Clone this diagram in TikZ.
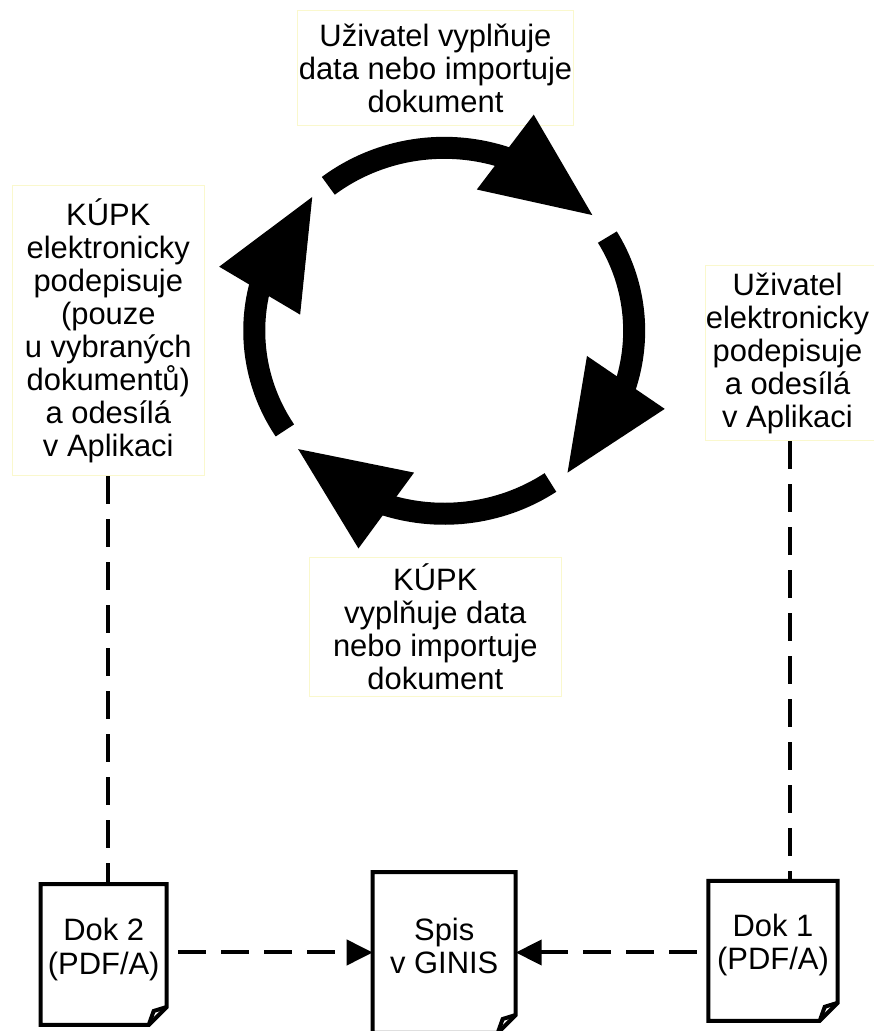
\documentclass[tikz,border=0pt]{standalone}
\usepackage{fontspec}
\setmainfont{Liberation Sans}
\usepackage{xcolor}
\usepackage{tikz}
\usetikzlibrary{arrows.meta}

\definecolor{noteborder}{RGB}{250,248,205}

\tikzset{note/.style={
    draw=noteborder,
    line width=0.02cm,
    align=center,
    inner sep=0pt,
    font=\fontsize{17.6pt}{18.8pt}\selectfont,
}}
\tikzset{doc/.style={
    draw=none,
    inner sep=0pt,
    outer sep=0pt,
}}
\tikzset{doctext/.style={
    align=center,
    inner sep=0pt,
    font=\fontsize{17.6pt}{18.8pt}\selectfont,
}}
\tikzset{docline/.style={
    line width=0.08cm,
    line join=miter,
}}
\tikzset{link/.style={
    line width=0.08cm,
    dash pattern=on 0.56cm off 0.3cm,
}}
\tikzset{feed/.style={
    link,
    dash phase=0.63cm,
    -{Triangle[length=0.52cm,width=0.5cm]},
}}
\tikzset{cyclearc/.style={
    line width=0.44cm,
}}

% sheet with a turned-down corner round an empty node
\newcommand{\docoutline}[1]{%
    \draw[docline] (#1.north west) -- (#1.north east) -- ([yshift=0.36cm]#1.south east)
        -- ([xshift=-0.36cm]#1.south east) -- (#1.south west) -- cycle;
    \draw[docline] ([yshift=0.36cm]#1.south east) -- ([xshift=-0.26cm,yshift=0.28cm]#1.south east)
        -- ([xshift=-0.36cm]#1.south east);
}

\begin{document}
\begin{tikzpicture}[x=0.02cm,y=0.02cm]
    \useasboundingbox (0,0) rectangle (873,1031);

    % steps round the cycle
    \node[note, minimum width=5.54cm, minimum height=2.3cm] (ufill) at (435.5,962.7)
        {Uživatel vyplňuje\\data nebo importuje\\dokument};
    \node[note, minimum width=3.83cm, minimum height=5.82cm] (ksign) at (108.3,700.5)
        {KÚPK\\elektronicky\\podepisuje\\(pouze\\u vybraných\\dokumentů)\\a odesílá\\v Aplikaci};
    \node[note, minimum width=3.6cm, minimum height=3.5cm] (usign) at (795,677.8) {};
    \node[doctext] (usigntxt) at (787.5,677.8)
        {Uživatel\\elektronicky\\podepisuje\\a odesílá\\v Aplikaci};
    \node[note, minimum width=5.05cm, minimum height=2.79cm] (kfill) at (435.3,404)
        {KÚPK\\vyplňuje data\\nebo importuje\\dokument};

    % the cycle
    \coordinate (cyc) at (444.2,700.2);
    \draw[cyclearc] ([shift={(127.6:3.8cm and 3.66cm)}]cyc)
        arc[start angle=127.6, end angle=69, x radius=3.8cm, y radius=3.66cm];
    \fill ([shift={(38:3.76cm)}]cyc) -- ([shift={(77:2.9cm)}]cyc) -- ([shift={(67.5:4.68cm)}]cyc) -- cycle;
    \draw[cyclearc] ([shift={(30.8:3.8cm and 3.66cm)}]cyc)
        arc[start angle=30.8, end angle=-18, x radius=3.8cm, y radius=3.66cm];
    \fill ([shift={(-49:3.76cm)}]cyc) -- ([shift={(-10:2.9cm)}]cyc) -- ([shift={(-19.5:4.68cm)}]cyc) -- cycle;
    \draw[cyclearc] ([shift={(-56:3.8cm and 3.66cm)}]cyc)
        arc[start angle=-56, end angle=-110, x radius=3.8cm, y radius=3.66cm];
    \fill ([shift={(-141:3.76cm)}]cyc) -- ([shift={(-102:2.9cm)}]cyc) -- ([shift={(-111.5:4.68cm)}]cyc) -- cycle;
    \draw[cyclearc] ([shift={(-147:3.8cm and 3.66cm)}]cyc)
        arc[start angle=-147, end angle=-194.4, x radius=3.8cm, y radius=3.66cm];
    \fill ([shift={(-225.4:3.76cm)}]cyc) -- ([shift={(-186.4:2.9cm)}]cyc) -- ([shift={(-195.9:4.68cm)}]cyc) -- cycle;

    % documents
    \node[doc, minimum width=2.52cm, minimum height=2.82cm] (dok2) at (103.7,76.5) {};
    \node[doctext] (dok2txt) at ([yshift=0.1cm]dok2.center) {Dok 2\\(PDF/A)};
    \node[doc, minimum width=2.86cm, minimum height=3.22cm] (spis) at (444.2,78.5) {};
    \node[doctext] (spistxt) at ([yshift=0.14cm]spis.center) {Spis\\v GINIS};
    \node[doc, minimum width=2.59cm, minimum height=2.8cm] (dok1) at (773,80.2) {};
    \node[doctext] (dok1txt) at ([yshift=0.11cm]dok1.center) {Dok 1\\(PDF/A)};
    \docoutline{dok2}
    \docoutline{spis}
    \docoutline{dok1}

    % links
    \draw[link] (ksign.south) -- (ksign.south |- dok2.north);
    \draw[link] ([xshift=-0.1cm]usign.south) -- ([xshift=-0.1cm]usign.south |- dok1.north);
    \draw[feed] (dok2.east |- spis.west) -- (spis.west);
    \draw[feed] (dok1.west |- spis.east) -- (spis.east);
\end{tikzpicture}
\end{document}
